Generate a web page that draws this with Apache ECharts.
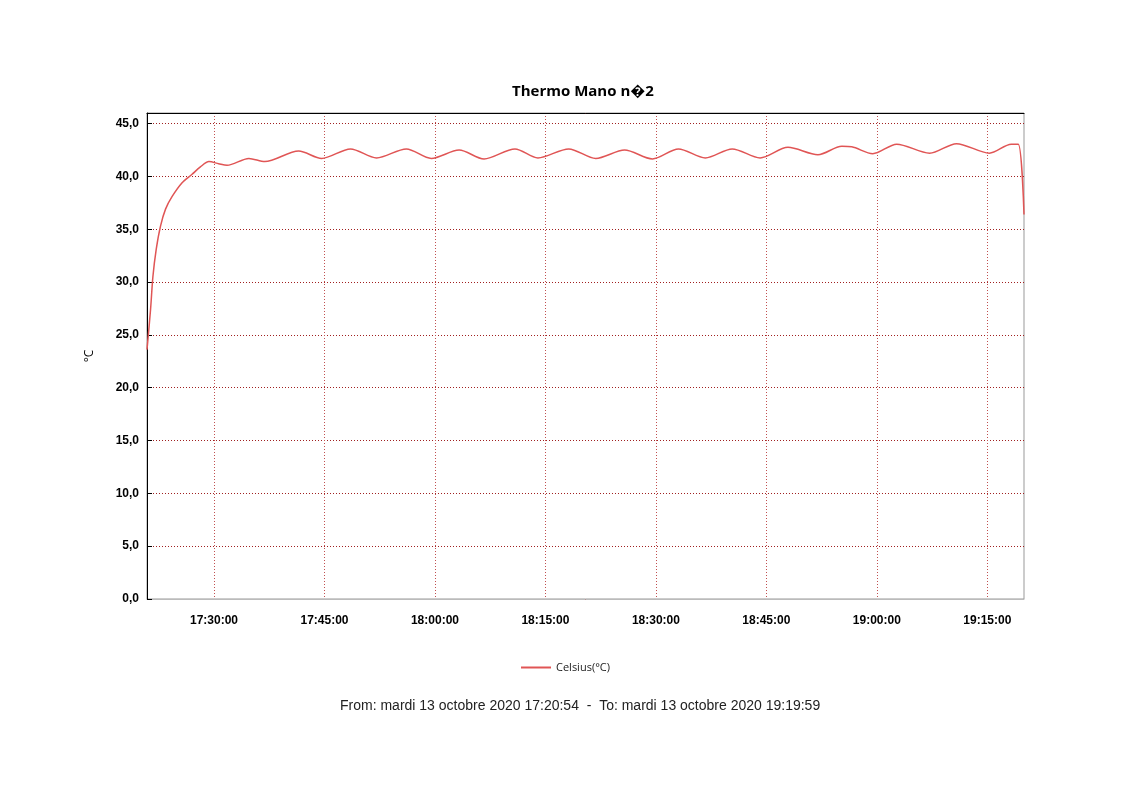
<!DOCTYPE html>
<html>
<head>
<meta charset="utf-8">
<script src="https://cdn.jsdelivr.net/npm/echarts@6/dist/echarts.min.js"></script>
<style>html,body{margin:0;padding:0;background:#fff}#c{width:1122px;height:793px}</style>
</head>
<body>
<div id="c"></div>
<script>
var times = ['17:20:54','17:21:23','17:21:42','17:22:09','17:22:44','17:23:25','17:24:19','17:25:40','17:27:01','17:28:09','17:29:19','17:30:38','17:31:46','17:34:44','17:36:54','17:41:30','17:44:37','17:48:32','17:52:04','17:56:07','17:59:30','18:03:17','18:06:40','18:10:52','18:13:59','18:18:10','18:21:50','18:25:45','18:29:32','18:33:04','18:36:43','18:40:22','18:44:09','18:47:56','18:52:00','18:55:15','18:56:36','18:59:27','19:02:42','19:07:10','19:10:49','19:15:17','19:18:15','19:19:12','19:19:59'];
var celsius = [23.6,27.4,30.5,33.1,35.3,36.9,38.1,39.4,40.2,40.9,41.4,41.2,41.05,41.7,41.4,42.4,41.7,42.6,41.75,42.6,41.7,42.5,41.65,42.6,41.75,42.6,41.7,42.5,41.65,42.6,41.75,42.6,41.75,42.75,42.05,42.85,42.8,42.15,43.05,42.2,43.1,42.2,43.05,43.05,36.4];
var xTickLabels = ['17:30:00','17:45:00','18:00:00','18:15:00','18:30:00','18:45:00','19:00:00','19:15:00'];
var yTicks = [0,5,10,15,20,25,30,35,40,45];

function secs(s){ var p = s.split(':'); return (+p[0])*3600 + (+p[1])*60 + (+p[2]); }
function pad(n){ return (n<10?'0':'')+n; }
function fmt(v){ var h=Math.floor(v/3600), m=Math.floor((v%3600)/60), s=Math.round(v%60); return pad(h)+':'+pad(m)+':'+pad(s); }
var seriesData = times.map(function(t,i){ return [secs(t), celsius[i]]; });
var xTickVals = xTickLabels.map(secs);

var chart = echarts.init(document.getElementById('c'), null, {renderer:'canvas'});
chart.setOption({
  animation:false,
  backgroundColor:'#fff',
  title:[{
    text:'Thermo Mano n\uFFFD2', left:507, top:79,
    textStyle:{fontFamily:'Open Sans', fontWeight:'bold', fontSize:15, color:'#000'}
  },{
    text:'From: mardi 13 octobre 2020 17:20:54  -  To: mardi 13 octobre 2020 19:19:59',
    left:335, top:694,
    textStyle:{fontFamily:'Liberation Sans', fontWeight:'normal', fontSize:14, color:'#222'}
  }],
  legend:{
    data:['Celsius(°C)'], left:516, top:657,
    icon:'path://M0,0 L30,0 L30,2 L0,2 Z', itemWidth:30, itemHeight:2, itemGap:6,
    textStyle:{fontFamily:'Open Sans', fontSize:11, color:'#222'}
  },
  grid:{left:147, right:98, top:113, bottom:194, show:true, borderColor:'#999', borderWidth:1, backgroundColor:'transparent'},
  xAxis:[{
    type:'value', min:secs(times[0]), max:secs(times[times.length-1]),
    axisLine:{show:true, lineStyle:{color:'#bbb'}},
    axisTick:{show:false, customValues:xTickVals},
    axisLabel:{
      customValues:xTickVals,
      margin:16, color:'#000', fontFamily:'Liberation Sans', fontWeight:'bold', fontSize:12,
      formatter:function(v){ return fmt(v); }
    },
    splitLine:{show:true, lineStyle:{color:'#c05050', type:[1,2], width:1}}
  },{
    type:'value', position:'top', min:0, max:1,
    axisLine:{show:true, onZero:false, lineStyle:{color:'#000'}},
    axisTick:{show:false}, axisLabel:{show:false}, splitLine:{show:false}
  }],
  yAxis:{
    type:'value', min:0, max:46, interval:5,
    name:'°C', nameLocation:'middle', nameGap:51, nameRotate:90,
    nameTextStyle:{fontFamily:'Open Sans', fontSize:12, color:'#000'},
    axisLine:{show:true, lineStyle:{color:'#000'}},
    axisTick:{show:true, inside:true, length:5, lineStyle:{color:'#000'}},
    axisLabel:{
      margin:8, color:'#000', fontFamily:'Liberation Sans', fontWeight:'bold', fontSize:12,
      formatter:function(v){ return yTicks.indexOf(v) >= 0 ? v.toFixed(1).replace('.',',') : ''; }
    },
    splitLine:{show:true, lineStyle:{color:'#a02020', type:[1,2], width:1}}
  },
  series:[{
    name:'Celsius(°C)', type:'line', data:seriesData, showSymbol:false,
    smooth:0.3,
    lineStyle:{color:'#e05555', width:1.5},
    itemStyle:{color:'#e05555'}
  }]
});
</script>
</body>
</html>
